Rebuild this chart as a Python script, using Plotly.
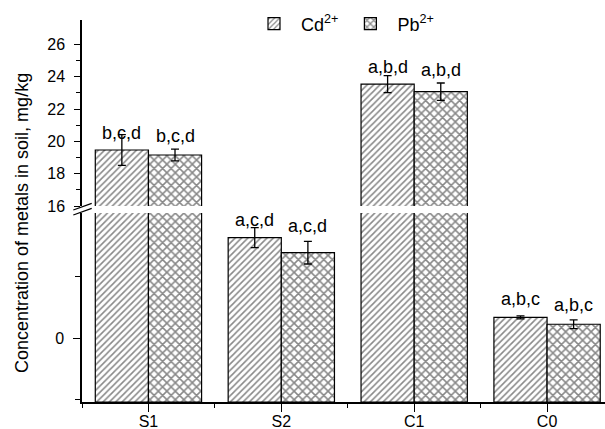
import plotly.graph_objects as go

# ---- data ----
categories = ["S1", "S2", "C1", "C0"]
# broken axis: S1 and C1 bars are read on the upper scale (16-27),
# S2 and C0 bars on the lower (compressed) scale whose only label is "0"
cd_values = [19.47, 8.17, 23.55, 1.70]
cd_err = [0.95, 0.81, 0.53, 0.12]
pb_values = [19.16, 6.95, 23.08, 1.14]
pb_err = [0.36, 0.92, 0.54, 0.35]
cd_labels = ["b,c,d", "a,c,d", "a,b,d", "a,b,c"]
pb_labels = ["b,c,d", "a,c,d", "a,b,d", "a,b,c"]
cd_label_y = [20.54, 9.60, 24.63, 3.17]
pb_label_y = [20.33, 9.11, 24.42, 2.70]
upper_ticks = [16, 18, 20, 22, 24, 26]
upper_minor = [17, 19, 21, 23, 25]
lower_ticks = [0]
lower_tick_text = ["0"]
lower_minor = [-5, 5]

# ---- layout constants ----
W, H = 605, 429
ML, MR, MT, MB = 82, 0, 20, 27
lower_range = [-5.17, 10.17]
upper_range = [16, 27.52]
lower_dom = [0, 0.4948]
upper_dom = [0.513, 1]
lower_base = lower_range[0]
upper_base = 15
FONT = "Liberation Sans, Arial, sans-serif"

x_pos = list(range(len(categories)))

series = [
    ("Cd<sup>2+</sup>", cd_values, cd_err, "/", 4.5, 0.34, "#111111"),
    ("Pb<sup>2+</sup>", pb_values, pb_err, "x", 6, 0.45, "#111111"),
]

fig = go.Figure()
for name, vals, errs, shape, psize, psol, pcol in series:
    for axis, base, seg in (("y", lower_base, "lower"), ("y2", upper_base, "upper")):
        if seg == "lower":
            e = [er if v < lower_range[1] else None for v, er in zip(vals, errs)]
        else:
            e = [er if v >= upper_range[0] else None for v, er in zip(vals, errs)]
        fig.add_trace(go.Bar(
            x=x_pos,
            y=[v - base for v in vals],
            base=base,
            yaxis=axis,
            name=name,
            offsetgroup=name,
            legendgroup=name,
            showlegend=(axis == "y2"),
            marker=dict(
                color="white",
                line=dict(color="black", width=1.2),
                pattern=dict(shape=shape, fgcolor=pcol, bgcolor="white",
                             size=psize, solidity=psol),
            ),
            error_y=dict(type="data", array=e, visible=True, color="black",
                         thickness=1.3, width=4),
            hoverinfo="skip",
        ))

# letters above bars
annotations = []
for labels, ly, off, vals in ((cd_labels, cd_label_y, -0.2, cd_values),
                              (pb_labels, pb_label_y, 0.2, pb_values)):
    for i, (t, yv, v) in enumerate(zip(labels, ly, vals)):
        annotations.append(dict(
            x=x_pos[i] + off, y=yv, xref="x",
            yref="y2" if v >= upper_range[0] else "y",
            text=t, showarrow=False, xanchor="center", yanchor="middle",
            font=dict(family=FONT, size=18, color="black"),
        ))

# y-axis title
ph = H - MT - MB
pw = W - ML - MR
annotations.append(dict(
    x=(22 - ML) / pw, y=(H - MB - 223) / ph, xref="paper", yref="paper",
    text="Concentration of metals in soil, mg/kg", textangle=-90, showarrow=False,
    xanchor="center", yanchor="middle", font=dict(family=FONT, size=18, color="black"),
))

# axis-break marks "//"
shapes = []
for dy in (0, 5):
    x0 = (73.3 - ML) / pw
    x1 = (91.7 - ML) / pw
    y0 = (H - MB - (210 + dy)) / ph
    y1 = (H - MB - (203.3 + dy)) / ph
    shapes.append(dict(type="line", xref="paper", yref="paper",
                       x0=x0, x1=x1, y0=y0, y1=y1,
                       line=dict(color="black", width=1.3)))

axis_common = dict(showline=True, linecolor="black", linewidth=1.5,
                   ticks="outside", tickcolor="black", tickwidth=1.3,
                   showgrid=False, zeroline=False, automargin=False,
                   tickfont=dict(family=FONT, size=16, color="black"))

fig.update_layout(
    width=W, height=H,
    margin=dict(l=ML, r=MR, t=MT, b=MB, pad=0, autoexpand=False),
    paper_bgcolor="white", plot_bgcolor="white",
    barmode="group", bargap=0.2, bargroupgap=0,
    showlegend=True,
    legend=dict(orientation="h", x=(343 - ML) / pw, y=(H - MB - 24) / ph,
                xanchor="center", yanchor="middle", bgcolor="rgba(0,0,0,0)",
                font=dict(family=FONT, size=18, color="black"),
                itemwidth=44, traceorder="normal"),
    xaxis=dict(range=[-0.5, 3.436], tickvals=x_pos, ticktext=categories,
               ticklen=8, anchor="y", ticklabelstandoff=-4,
               minor=dict(tickvals=[-0.5, 0.5, 1.5, 2.5], ticklen=4,
                          ticks="outside", tickcolor="black", tickwidth=1.3),
               **axis_common),
    yaxis=dict(domain=lower_dom, range=lower_range, tickvals=lower_ticks,
               ticktext=lower_tick_text, ticklen=7, ticklabelstandoff=6,
               minor=dict(tickvals=lower_minor, ticklen=5, ticks="outside",
                          tickcolor="black", tickwidth=1.3),
               **axis_common),
    yaxis2=dict(domain=upper_dom, range=upper_range, tickvals=upper_ticks,
                ticklen=6, anchor="x", ticklabelstandoff=6,
                minor=dict(tickvals=upper_minor, ticklen=4, ticks="outside",
                           tickcolor="black", tickwidth=1.3),
                **axis_common),
    annotations=annotations,
    shapes=shapes,
)

fig.write_html(
    "out.html",
    config={"displayModeBar": False},
    post_script="document.body.style.margin='0';document.body.style.overflow='hidden';",
)
